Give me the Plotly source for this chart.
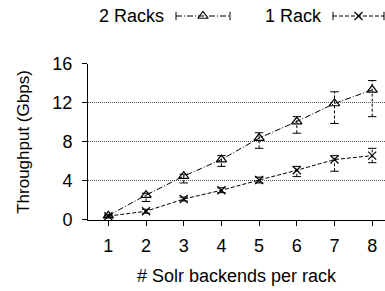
import plotly.graph_objects as go

backends = [1, 2, 3, 4, 5, 6, 7, 8]
two_racks = [0.45, 2.55, 4.5, 6.2, 8.4, 10.1, 11.95, 13.35]
two_racks_hi = [0.6, 2.75, 4.7, 6.6, 8.95, 10.6, 13.15, 14.3]
two_racks_lo = [0.3, 1.9, 3.8, 5.5, 7.35, 8.9, 9.9, 10.6]
one_rack = [0.4, 0.9, 2.15, 3.05, 4.1, 5.1, 6.2, 6.6]
one_rack_hi = [0.5, 1.1, 2.35, 3.3, 4.4, 5.5, 6.6, 7.35]
one_rack_lo = [0.3, 0.7, 1.95, 2.8, 3.8, 4.45, 5.0, 5.88]
y_ticks = [0, 4, 8, 12, 16]

FONT = "Liberation Sans, Arial, sans-serif"
fig = go.Figure()


def add_series(y, lo, hi, dash, symbol, size):
    ex, ey = [], []
    for xi, l, h in zip(backends, lo, hi):
        ex += [xi, xi, None]
        ey += [l, h, None]
    fig.add_trace(go.Scatter(x=ex, y=ey, mode="lines",
                             line=dict(color="black", width=1, dash="3px,2px"),
                             showlegend=False, hoverinfo="skip"))
    fig.add_trace(go.Scatter(x=backends + backends, y=lo + hi, mode="markers",
                             marker=dict(symbol="line-ew", size=6, color="black",
                                         line=dict(color="black", width=1)),
                             showlegend=False, hoverinfo="skip"))
    fig.add_trace(go.Scatter(x=backends, y=y, mode="lines+markers",
                             line=dict(color="black", width=1, dash=dash),
                             marker=dict(symbol=symbol, size=size, color="black",
                                         line=dict(color="black", width=1.2)),
                             showlegend=False))


add_series(two_racks, two_racks_lo, two_racks_hi, "6px,2px,1px,2px", "triangle-up-open", 9)
add_series(one_rack, one_rack_lo, one_rack_hi, "4px,2px", "x-thin-open", 8)


# legend samples on an overlay axis (pixel-like coordinates)
def legend_sample(x0, x1, dash, symbol, size, label, label_x):
    fig.add_trace(go.Scatter(x=[x0, x1], y=[-16, -16], mode="lines",
                             line=dict(color="black", width=1, dash=dash),
                             xaxis="x2", yaxis="y2", showlegend=False, hoverinfo="skip"))
    fig.add_trace(go.Scatter(x=[x0, x1], y=[-16, -16], mode="markers",
                             marker=dict(symbol="line-ns", size=6, color="black",
                                         line=dict(color="black", width=1)),
                             xaxis="x2", yaxis="y2", showlegend=False, hoverinfo="skip"))
    fig.add_trace(go.Scatter(x=[(x0 + x1) / 2], y=[-16], mode="markers",
                             marker=dict(symbol=symbol, size=size, color="black",
                                         line=dict(color="black", width=1.2)),
                             xaxis="x2", yaxis="y2", showlegend=False, hoverinfo="skip"))
    fig.add_annotation(x=label_x, y=-16, xref="x2", yref="y2", text=label,
                       showarrow=False, xanchor="right", yanchor="middle",
                       font=dict(family=FONT, size=18, color="black"))


legend_sample(176, 230, "6px,2px,1px,2px", "triangle-up-open", 9, "2 Racks", 166)
legend_sample(333, 384, "4px,2px", "x-thin-open", 8, "1 Rack", 324)

fig.update_layout(
    width=385, height=291,
    margin=dict(l=88, r=0, t=5, b=71),
    paper_bgcolor="white", plot_bgcolor="white",
    font=dict(family=FONT, size=18, color="black"),
    xaxis=dict(range=[0.46, 8.34], tickvals=backends, ticks="outside", ticklen=5,
               tickcolor="black", showline=True, linecolor="black", linewidth=1,
               showgrid=False, zeroline=False, automargin=False, ticklabelstandoff=4,
               title=dict(text="# Solr backends per rack", font=dict(size=18), standoff=14),
               tickfont=dict(size=18)),
    yaxis=dict(domain=[0, 0.7256], range=[0, 16], tickvals=y_ticks, ticks="outside",
               ticklen=5, tickcolor="black", showline=True, linecolor="black",
               linewidth=1, showgrid=True, gridcolor="#555", griddash="1px,1px",
               gridwidth=1, zeroline=False, ticklabelstandoff=6, automargin=False,
               title=dict(text="Throughput (Gbps)", font=dict(size=17), standoff=18),
               tickfont=dict(size=18)),
    xaxis2=dict(domain=[0, 1], range=[88, 385], anchor="y2", visible=False),
    yaxis2=dict(domain=[0.7256, 1], range=[-64, -5], anchor="x2", visible=False),
)

fig.write_html("out.html", config={"displayModeBar": False},
               post_script="document.body.style.margin='0';")
